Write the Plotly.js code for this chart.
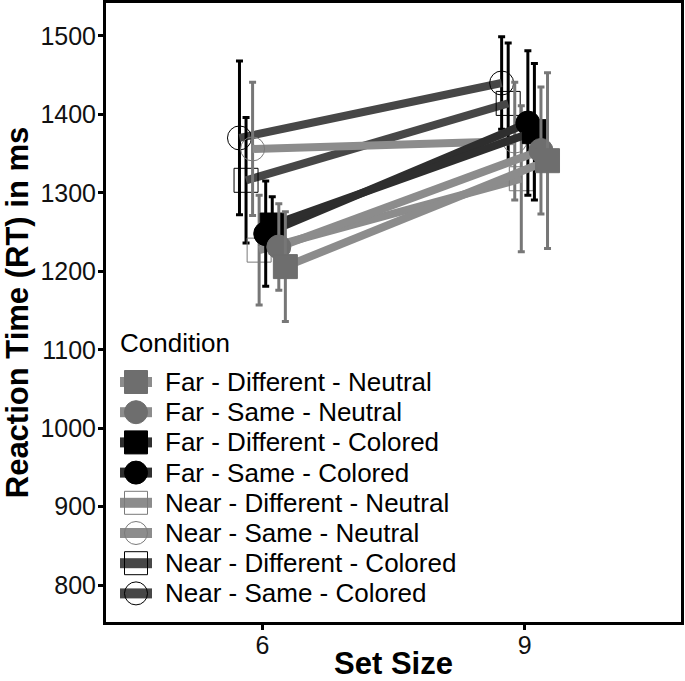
<!DOCTYPE html>
<html><head><meta charset="utf-8">
<script src="https://cdn.plot.ly/plotly-3.0.1.min.js"></script>
<style>html,body{margin:0;padding:0;background:#fff;}#chart{width:685px;height:681px;}</style>
</head><body><div id="chart"></div>
<script>
// ---- data ----
const setSizes = [6, 9];
const conditions = [
  "Far - Different - Neutral", "Far - Same - Neutral",
  "Far - Different - Colored", "Far - Same - Colored",
  "Near - Different - Neutral", "Near - Same - Neutral",
  "Near - Different - Colored", "Near - Same - Colored"
];
const meanSet6 = [1206, 1231, 1259, 1248, 1227, 1356, 1316, 1370];
const errSet6  = [70, 55, 36, 67, 70, 85, 80, 98];
const meanSet9 = [1341, 1354, 1378, 1389, 1318, 1366, 1414, 1440];
const errSet9  = [112, 81, 87, 92, 93, 75, 77, 59];
const yTicks = [800, 900, 1000, 1100, 1200, 1300, 1400, 1500];
const legendTitle = "Condition";

// ---- styles ----
const FONT = "Liberation Sans, Arial, Helvetica, sans-serif";
function styleOf(name) {
  const far = name.startsWith("Far");
  const same = name.includes("Same");
  const colored = name.includes("Colored");
  let lineColor, markColor, errColor;
  if (colored) { lineColor = far ? "#2e2e2e" : "#474747"; markColor = "#000000"; errColor = "#000000"; }
  else { lineColor = "#8c8c8c"; markColor = far ? "#6e6e6e" : "#7a7a7a"; errColor = "#777777"; }
  const symbol = (same ? "circle" : "square") + (far ? "" : "-open");
  return { lineColor, markColor, errColor, symbol };
}

const dodgeStep = 0.075;
const traces = [];
const n = conditions.length;
// draw in dodge order (left to right)
for (let d = 0; d < n; d++) {
  const i = n - 1 - d;
  const st = styleOf(conditions[i]);
  const off = (d - (n - 1) / 2) * dodgeStep;
  traces.push({
    type: "scatter", mode: "lines+markers",
    x: setSizes.map(s => s + off),
    y: [meanSet6[i], meanSet9[i]],
    error_y: { type: "data", array: [errSet6[i], errSet9[i]], visible: true,
               color: st.errColor, thickness: 3, width: 3.5 },
    line: { color: st.lineColor, width: 8 },
    marker: { symbol: st.symbol, size: 24, color: st.markColor,
              line: { color: st.markColor, width: 1 } },
    showlegend: false, hoverinfo: "skip", xaxis: "x", yaxis: "y"
  });
}

// ---- legend drawn on an overlay axis ----
const legLineX = [14, 46], legMarkX = 30, legTextX = 57;
const annotations = [];
for (let i = 0; i < n; i++) {
  const st = styleOf(conditions[i]);
  traces.push({
    type: "scatter", mode: "lines", x: legLineX, y: [i, i],
    line: { color: st.lineColor, width: 10 }, showlegend: false, hoverinfo: "skip",
    xaxis: "x2", yaxis: "y2"
  });
  traces.push({
    type: "scatter", mode: "markers", x: [legMarkX], y: [i],
    marker: { symbol: st.symbol, size: 23, color: st.markColor, line: { color: st.markColor, width: 1 } },
    showlegend: false, hoverinfo: "skip", xaxis: "x2", yaxis: "y2"
  });
  annotations.push({ xref: "x2", yref: "y2", x: legTextX, y: i, text: conditions[i],
    showarrow: false, xanchor: "left", yanchor: "middle",
    font: { family: FONT, size: 26, color: "#000" } });
}
annotations.push({ xref: "x2", yref: "y2", x: 12, y: -1.3, text: legendTitle,
  showarrow: false, xanchor: "left", yanchor: "middle",
  font: { family: FONT, size: 26, color: "#000" } });

const layout = {
  width: 685, height: 681,
  margin: { l: 106, r: 4, t: 3, b: 59 },
  paper_bgcolor: "#fff", plot_bgcolor: "#fff",
  font: { family: FONT, color: "#000" },
  xaxis: {
    range: [4.21, 10.79], tickvals: setSizes, ticktext: setSizes.map(String),
    showgrid: false, zeroline: false, showline: true, mirror: true,
    linecolor: "#000", linewidth: 3, ticks: "outside", ticklen: 5, tickwidth: 3, tickcolor: "#000",
    ticklabelstandoff: -6,
    tickfont: { family: FONT, size: 25, color: "#111" },
    title: { text: "Set Size", standoff: 14, font: { family: FONT, size: 31, color: "#000", weight: "bold" } }
  },
  yaxis: {
    range: [753, 1542], tickvals: yTicks, ticktext: yTicks.map(String),
    showgrid: false, zeroline: false, showline: true, mirror: true,
    linecolor: "#000", linewidth: 3, ticks: "outside", ticklen: 5, tickwidth: 3, tickcolor: "#000",
    ticklabelstandoff: -3,
    tickfont: { family: FONT, size: 25, color: "#111" },
    title: { text: "Reaction Time (RT) in ms", standoff: 10, font: { family: FONT, size: 31, color: "#000", weight: "bold" } }
  },
  xaxis2: { overlaying: "x", anchor: "y2", range: [0, 575], visible: false, fixedrange: true },
  yaxis2: { overlaying: "y", anchor: "x2", range: [7.947, -12.55], visible: false, fixedrange: true },
  annotations: annotations,
  showlegend: false
};

Plotly.newPlot("chart", traces, layout, { staticPlot: true, displayModeBar: false });
</script>
</body></html>
